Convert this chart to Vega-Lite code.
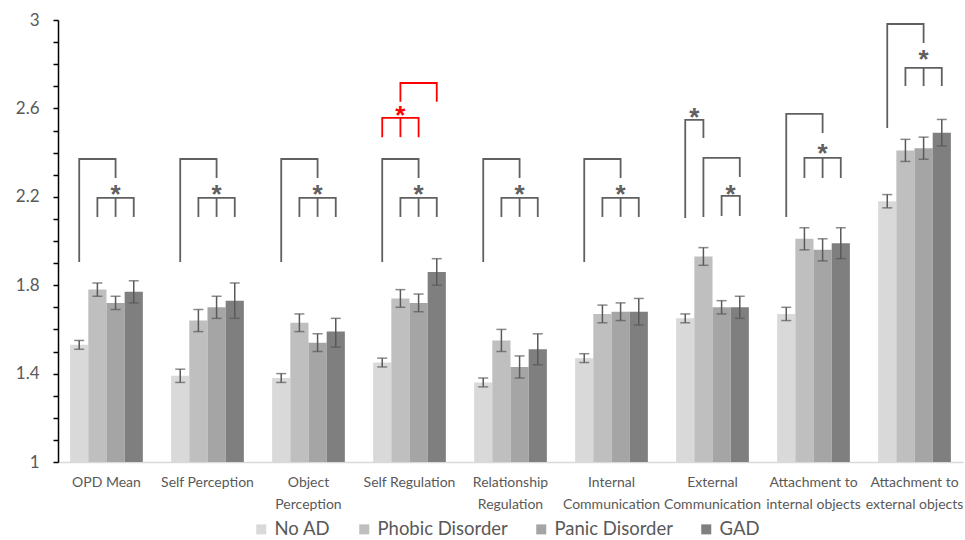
{
  "$schema": "https://vega.github.io/schema/vega-lite/v6.json",
  "width": 905,
  "height": 442,
  "autosize": {"type": "none"},
  "padding": {"left": 58, "top": 20, "right": 2, "bottom": 78},
  "config": {
    "view": {"stroke": null},
    "font": "Lato",
    "axis": {"grid": false}
  },
  "datasets": {
    "bars": [
      {"c": "OPD Mean", "s": "No AD", "v": 1.53, "lo": 1.51, "hi": 1.55},
      {"c": "OPD Mean", "s": "Phobic Disorder", "v": 1.78, "lo": 1.75, "hi": 1.81},
      {"c": "OPD Mean", "s": "Panic Disorder", "v": 1.72, "lo": 1.69, "hi": 1.75},
      {"c": "OPD Mean", "s": "GAD", "v": 1.77, "lo": 1.72, "hi": 1.82},
      {"c": "Self Perception", "s": "No AD", "v": 1.39, "lo": 1.36, "hi": 1.42},
      {"c": "Self Perception", "s": "Phobic Disorder", "v": 1.64, "lo": 1.59, "hi": 1.69},
      {"c": "Self Perception", "s": "Panic Disorder", "v": 1.70, "lo": 1.65, "hi": 1.75},
      {"c": "Self Perception", "s": "GAD", "v": 1.73, "lo": 1.65, "hi": 1.81},
      {"c": "Object Perception", "s": "No AD", "v": 1.38, "lo": 1.36, "hi": 1.40},
      {"c": "Object Perception", "s": "Phobic Disorder", "v": 1.63, "lo": 1.59, "hi": 1.67},
      {"c": "Object Perception", "s": "Panic Disorder", "v": 1.54, "lo": 1.50, "hi": 1.58},
      {"c": "Object Perception", "s": "GAD", "v": 1.59, "lo": 1.52, "hi": 1.65},
      {"c": "Self Regulation", "s": "No AD", "v": 1.45, "lo": 1.43, "hi": 1.47},
      {"c": "Self Regulation", "s": "Phobic Disorder", "v": 1.74, "lo": 1.70, "hi": 1.78},
      {"c": "Self Regulation", "s": "Panic Disorder", "v": 1.72, "lo": 1.68, "hi": 1.76},
      {"c": "Self Regulation", "s": "GAD", "v": 1.86, "lo": 1.80, "hi": 1.92},
      {"c": "Relationship Regulation", "s": "No AD", "v": 1.36, "lo": 1.34, "hi": 1.38},
      {"c": "Relationship Regulation", "s": "Phobic Disorder", "v": 1.55, "lo": 1.50, "hi": 1.60},
      {"c": "Relationship Regulation", "s": "Panic Disorder", "v": 1.43, "lo": 1.38, "hi": 1.48},
      {"c": "Relationship Regulation", "s": "GAD", "v": 1.51, "lo": 1.44, "hi": 1.58},
      {"c": "Internal Communication", "s": "No AD", "v": 1.47, "lo": 1.45, "hi": 1.49},
      {"c": "Internal Communication", "s": "Phobic Disorder", "v": 1.67, "lo": 1.63, "hi": 1.71},
      {"c": "Internal Communication", "s": "Panic Disorder", "v": 1.68, "lo": 1.64, "hi": 1.72},
      {"c": "Internal Communication", "s": "GAD", "v": 1.68, "lo": 1.62, "hi": 1.74},
      {"c": "External Communication", "s": "No AD", "v": 1.65, "lo": 1.63, "hi": 1.67},
      {"c": "External Communication", "s": "Phobic Disorder", "v": 1.93, "lo": 1.89, "hi": 1.97},
      {"c": "External Communication", "s": "Panic Disorder", "v": 1.70, "lo": 1.67, "hi": 1.73},
      {"c": "External Communication", "s": "GAD", "v": 1.70, "lo": 1.65, "hi": 1.75},
      {"c": "Attachment to internal objects", "s": "No AD", "v": 1.67, "lo": 1.64, "hi": 1.70},
      {"c": "Attachment to internal objects", "s": "Phobic Disorder", "v": 2.01, "lo": 1.96, "hi": 2.06},
      {"c": "Attachment to internal objects", "s": "Panic Disorder", "v": 1.96, "lo": 1.91, "hi": 2.01},
      {"c": "Attachment to internal objects", "s": "GAD", "v": 1.99, "lo": 1.92, "hi": 2.06},
      {"c": "Attachment to external objects", "s": "No AD", "v": 2.18, "lo": 2.15, "hi": 2.21},
      {"c": "Attachment to external objects", "s": "Phobic Disorder", "v": 2.41, "lo": 2.36, "hi": 2.46},
      {"c": "Attachment to external objects", "s": "Panic Disorder", "v": 2.42, "lo": 2.37, "hi": 2.47},
      {"c": "Attachment to external objects", "s": "GAD", "v": 2.49, "lo": 2.43, "hi": 2.55}
    ],
    "br": [
      {"c": "OPD Mean", "p": "a", "o": 1, "s": "No AD", "v": 1.905},
      {"c": "OPD Mean", "p": "a", "o": 2, "s": "No AD", "v": 2.371},
      {"c": "OPD Mean", "p": "a", "o": 3, "s": "Panic Disorder", "v": 2.371},
      {"c": "OPD Mean", "p": "a", "o": 4, "s": "Panic Disorder", "v": 2.285},
      {"c": "OPD Mean", "p": "b", "o": 1, "s": "Phobic Disorder", "v": 2.109},
      {"c": "OPD Mean", "p": "b", "o": 2, "s": "Phobic Disorder", "v": 2.195},
      {"c": "OPD Mean", "p": "b", "o": 3, "s": "GAD", "v": 2.195},
      {"c": "OPD Mean", "p": "b", "o": 4, "s": "GAD", "v": 2.109},
      {"c": "OPD Mean", "p": "m", "o": 1, "s": "Panic Disorder", "v": 2.195},
      {"c": "OPD Mean", "p": "m", "o": 2, "s": "Panic Disorder", "v": 2.109},
      {"c": "Self Perception", "p": "a", "o": 1, "s": "No AD", "v": 1.905},
      {"c": "Self Perception", "p": "a", "o": 2, "s": "No AD", "v": 2.371},
      {"c": "Self Perception", "p": "a", "o": 3, "s": "Panic Disorder", "v": 2.371},
      {"c": "Self Perception", "p": "a", "o": 4, "s": "Panic Disorder", "v": 2.285},
      {"c": "Self Perception", "p": "b", "o": 1, "s": "Phobic Disorder", "v": 2.109},
      {"c": "Self Perception", "p": "b", "o": 2, "s": "Phobic Disorder", "v": 2.195},
      {"c": "Self Perception", "p": "b", "o": 3, "s": "GAD", "v": 2.195},
      {"c": "Self Perception", "p": "b", "o": 4, "s": "GAD", "v": 2.109},
      {"c": "Self Perception", "p": "m", "o": 1, "s": "Panic Disorder", "v": 2.195},
      {"c": "Self Perception", "p": "m", "o": 2, "s": "Panic Disorder", "v": 2.109},
      {"c": "Object Perception", "p": "a", "o": 1, "s": "No AD", "v": 1.905},
      {"c": "Object Perception", "p": "a", "o": 2, "s": "No AD", "v": 2.371},
      {"c": "Object Perception", "p": "a", "o": 3, "s": "Panic Disorder", "v": 2.371},
      {"c": "Object Perception", "p": "a", "o": 4, "s": "Panic Disorder", "v": 2.285},
      {"c": "Object Perception", "p": "b", "o": 1, "s": "Phobic Disorder", "v": 2.109},
      {"c": "Object Perception", "p": "b", "o": 2, "s": "Phobic Disorder", "v": 2.195},
      {"c": "Object Perception", "p": "b", "o": 3, "s": "GAD", "v": 2.195},
      {"c": "Object Perception", "p": "b", "o": 4, "s": "GAD", "v": 2.109},
      {"c": "Object Perception", "p": "m", "o": 1, "s": "Panic Disorder", "v": 2.195},
      {"c": "Object Perception", "p": "m", "o": 2, "s": "Panic Disorder", "v": 2.109},
      {"c": "Self Regulation", "p": "a", "o": 1, "s": "No AD", "v": 1.905},
      {"c": "Self Regulation", "p": "a", "o": 2, "s": "No AD", "v": 2.371},
      {"c": "Self Regulation", "p": "a", "o": 3, "s": "Panic Disorder", "v": 2.371},
      {"c": "Self Regulation", "p": "a", "o": 4, "s": "Panic Disorder", "v": 2.285},
      {"c": "Self Regulation", "p": "b", "o": 1, "s": "Phobic Disorder", "v": 2.109},
      {"c": "Self Regulation", "p": "b", "o": 2, "s": "Phobic Disorder", "v": 2.195},
      {"c": "Self Regulation", "p": "b", "o": 3, "s": "GAD", "v": 2.195},
      {"c": "Self Regulation", "p": "b", "o": 4, "s": "GAD", "v": 2.109},
      {"c": "Self Regulation", "p": "m", "o": 1, "s": "Panic Disorder", "v": 2.195},
      {"c": "Self Regulation", "p": "m", "o": 2, "s": "Panic Disorder", "v": 2.109},
      {"c": "Relationship Regulation", "p": "a", "o": 1, "s": "No AD", "v": 1.905},
      {"c": "Relationship Regulation", "p": "a", "o": 2, "s": "No AD", "v": 2.371},
      {"c": "Relationship Regulation", "p": "a", "o": 3, "s": "Panic Disorder", "v": 2.371},
      {"c": "Relationship Regulation", "p": "a", "o": 4, "s": "Panic Disorder", "v": 2.285},
      {"c": "Relationship Regulation", "p": "b", "o": 1, "s": "Phobic Disorder", "v": 2.109},
      {"c": "Relationship Regulation", "p": "b", "o": 2, "s": "Phobic Disorder", "v": 2.195},
      {"c": "Relationship Regulation", "p": "b", "o": 3, "s": "GAD", "v": 2.195},
      {"c": "Relationship Regulation", "p": "b", "o": 4, "s": "GAD", "v": 2.109},
      {"c": "Relationship Regulation", "p": "m", "o": 1, "s": "Panic Disorder", "v": 2.195},
      {"c": "Relationship Regulation", "p": "m", "o": 2, "s": "Panic Disorder", "v": 2.109},
      {"c": "Internal Communication", "p": "a", "o": 1, "s": "No AD", "v": 1.905},
      {"c": "Internal Communication", "p": "a", "o": 2, "s": "No AD", "v": 2.371},
      {"c": "Internal Communication", "p": "a", "o": 3, "s": "Panic Disorder", "v": 2.371},
      {"c": "Internal Communication", "p": "a", "o": 4, "s": "Panic Disorder", "v": 2.285},
      {"c": "Internal Communication", "p": "b", "o": 1, "s": "Phobic Disorder", "v": 2.109},
      {"c": "Internal Communication", "p": "b", "o": 2, "s": "Phobic Disorder", "v": 2.195},
      {"c": "Internal Communication", "p": "b", "o": 3, "s": "GAD", "v": 2.195},
      {"c": "Internal Communication", "p": "b", "o": 4, "s": "GAD", "v": 2.109},
      {"c": "Internal Communication", "p": "m", "o": 1, "s": "Panic Disorder", "v": 2.195},
      {"c": "Internal Communication", "p": "m", "o": 2, "s": "Panic Disorder", "v": 2.109},
      {"c": "External Communication", "p": "a", "o": 1, "s": "No AD", "v": 2.104},
      {"c": "External Communication", "p": "a", "o": 2, "s": "No AD", "v": 2.548},
      {"c": "External Communication", "p": "a", "o": 3, "s": "Phobic Disorder", "v": 2.548},
      {"c": "External Communication", "p": "a", "o": 4, "s": "Phobic Disorder", "v": 2.466},
      {"c": "External Communication", "p": "b", "o": 1, "s": "Phobic Disorder", "v": 2.109},
      {"c": "External Communication", "p": "b", "o": 2, "s": "Phobic Disorder", "v": 2.376},
      {"c": "External Communication", "p": "b", "o": 3, "s": "GAD", "v": 2.376},
      {"c": "External Communication", "p": "b", "o": 4, "s": "GAD", "v": 2.29},
      {"c": "External Communication", "p": "d", "o": 1, "s": "Panic Disorder", "v": 2.113},
      {"c": "External Communication", "p": "d", "o": 2, "s": "Panic Disorder", "v": 2.204},
      {"c": "External Communication", "p": "d", "o": 3, "s": "GAD", "v": 2.204},
      {"c": "External Communication", "p": "d", "o": 4, "s": "GAD", "v": 2.113},
      {"c": "Attachment to internal objects", "p": "a", "o": 1, "s": "No AD", "v": 2.109},
      {"c": "Attachment to internal objects", "p": "a", "o": 2, "s": "No AD", "v": 2.575},
      {"c": "Attachment to internal objects", "p": "a", "o": 3, "s": "Panic Disorder", "v": 2.575},
      {"c": "Attachment to internal objects", "p": "a", "o": 4, "s": "Panic Disorder", "v": 2.489},
      {"c": "Attachment to internal objects", "p": "b", "o": 1, "s": "Phobic Disorder", "v": 2.285},
      {"c": "Attachment to internal objects", "p": "b", "o": 2, "s": "Phobic Disorder", "v": 2.376},
      {"c": "Attachment to internal objects", "p": "b", "o": 3, "s": "GAD", "v": 2.376},
      {"c": "Attachment to internal objects", "p": "b", "o": 4, "s": "GAD", "v": 2.285},
      {"c": "Attachment to internal objects", "p": "m", "o": 1, "s": "Panic Disorder", "v": 2.376},
      {"c": "Attachment to internal objects", "p": "m", "o": 2, "s": "Panic Disorder", "v": 2.285},
      {"c": "Attachment to external objects", "p": "a", "o": 1, "s": "No AD", "v": 2.511},
      {"c": "Attachment to external objects", "p": "a", "o": 2, "s": "No AD", "v": 2.982},
      {"c": "Attachment to external objects", "p": "a", "o": 3, "s": "Panic Disorder", "v": 2.982},
      {"c": "Attachment to external objects", "p": "a", "o": 4, "s": "Panic Disorder", "v": 2.896},
      {"c": "Attachment to external objects", "p": "b", "o": 1, "s": "Phobic Disorder", "v": 2.701},
      {"c": "Attachment to external objects", "p": "b", "o": 2, "s": "Phobic Disorder", "v": 2.783},
      {"c": "Attachment to external objects", "p": "b", "o": 3, "s": "GAD", "v": 2.783},
      {"c": "Attachment to external objects", "p": "b", "o": 4, "s": "GAD", "v": 2.701},
      {"c": "Attachment to external objects", "p": "m", "o": 1, "s": "Panic Disorder", "v": 2.783},
      {"c": "Attachment to external objects", "p": "m", "o": 2, "s": "Panic Disorder", "v": 2.701}
    ],
    "brRed": [
      {"c": "Self Regulation", "p": "r1", "o": 1, "s": "No AD", "v": 2.47},
      {"c": "Self Regulation", "p": "r1", "o": 2, "s": "No AD", "v": 2.557},
      {"c": "Self Regulation", "p": "r1", "o": 3, "s": "Panic Disorder", "v": 2.557},
      {"c": "Self Regulation", "p": "r1", "o": 4, "s": "Panic Disorder", "v": 2.47},
      {"c": "Self Regulation", "p": "rm", "o": 1, "s": "Phobic Disorder", "v": 2.557},
      {"c": "Self Regulation", "p": "rm", "o": 2, "s": "Phobic Disorder", "v": 2.47},
      {"c": "Self Regulation", "p": "r2", "o": 1, "s": "Phobic Disorder", "v": 2.63},
      {"c": "Self Regulation", "p": "r2", "o": 2, "s": "Phobic Disorder", "v": 2.715},
      {"c": "Self Regulation", "p": "r2", "o": 3, "s": "GAD", "v": 2.715},
      {"c": "Self Regulation", "p": "r2", "o": 4, "s": "GAD", "v": 2.63}
    ],
    "ast": [
      {"c": "OPD Mean", "s": "Panic Disorder", "v": 2.24},
      {"c": "Self Perception", "s": "Panic Disorder", "v": 2.24},
      {"c": "Object Perception", "s": "Panic Disorder", "v": 2.24},
      {"c": "Self Regulation", "s": "Panic Disorder", "v": 2.24},
      {"c": "Relationship Regulation", "s": "Panic Disorder", "v": 2.24},
      {"c": "Internal Communication", "s": "Panic Disorder", "v": 2.24},
      {"c": "Attachment to internal objects", "s": "Panic Disorder", "v": 2.425},
      {"c": "Attachment to external objects", "s": "Panic Disorder", "v": 2.851}
    ],
    "astMid": [
      {"c": "External Communication", "s": "No AD", "v": 2.588},
      {"c": "External Communication", "s": "Panic Disorder", "v": 2.24}
    ],
    "astRed": [
      {"c": "Self Regulation", "s": "Phobic Disorder", "v": 2.597}
    ]
  },
  "encoding": {
    "x": {
      "field": "c",
      "type": "nominal",
      "title": null,
      "scale": {
        "domain": ["OPD Mean", "Self Perception", "Object Perception", "Self Regulation", "Relationship Regulation", "Internal Communication", "External Communication", "Attachment to internal objects", "Attachment to external objects"],
        "paddingInner": 0.28,
        "paddingOuter": 0.12
      },
      "axis": {
        "ticks": false,
        "domainColor": "#d9d9d9",
        "domainWidth": 1.5,
        "labelAngle": 0,
        "labelFont": "Lato",
        "labelFontSize": 14,
        "labelColor": "#595959",
        "labelPadding": 13,
        "labelLineHeight": 22,
        "labelLimit": 0,
        "labelExpr": "datum.label == 'Attachment to internal objects' ? ['Attachment to', 'internal objects'] : datum.label == 'Attachment to external objects' ? ['Attachment to', 'external objects'] : (datum.label == 'OPD Mean' || datum.label == 'Self Perception' || datum.label == 'Self Regulation') ? datum.label : split(datum.label, ' ')"
      }
    },
    "xOffset": {
      "field": "s",
      "type": "nominal",
      "scale": {"domain": ["No AD", "Phobic Disorder", "Panic Disorder", "GAD"]}
    }
  },
  "layer": [
    {
      "data": {"name": "bars"},
      "mark": {"type": "bar"},
      "encoding": {
        "y": {
          "field": "v",
          "type": "quantitative",
          "title": null,
          "scale": {"domain": [1, 3], "zero": false, "nice": false},
          "axis": {
            "tickCount": 20,
            "domainColor": "#000000",
            "domainWidth": 1.5,
            "tickColor": "#000000",
            "tickWidth": 1.5,
            "tickSize": 5,
            "labelFont": "Lato",
            "labelFontSize": 17,
            "labelColor": "#595959",
            "labelPadding": 14,
            "labelOverlap": false,
            "labelFlush": false,
            "labelExpr": "abs((datum.value - 1) / 0.4 - round((datum.value - 1) / 0.4)) < 0.01 ? format(datum.value, '~g') : ''"
          }
        },
        "y2": {"datum": 1},
        "color": {
          "field": "s",
          "type": "nominal",
          "scale": {
            "domain": ["No AD", "Phobic Disorder", "Panic Disorder", "GAD"],
            "range": ["#d9d9d9", "#bfbfbf", "#a5a5a5", "#7f7f7f"]
          },
          "legend": {
            "orient": "none",
            "legendX": 194,
            "legendY": 500,
            "direction": "horizontal",
            "columns": 4,
            "title": null,
            "symbolType": "square",
            "symbolSize": 100,
            "symbolStrokeWidth": 0,
            "labelFont": "Lato",
            "labelFontSize": 18.5,
            "labelColor": "#595959",
            "labelOffset": 4,
            "columnPadding": 24
          }
        }
      }
    },
    {
      "data": {"name": "bars"},
      "mark": {"type": "rule", "color": "#595959", "strokeWidth": 1.5},
      "encoding": {
        "y": {"field": "lo", "type": "quantitative", "title": null},
        "y2": {"field": "hi"}
      }
    },
    {
      "data": {"name": "bars"},
      "mark": {"type": "tick", "color": "#595959", "size": 10, "thickness": 1.5, "orient": "horizontal"},
      "encoding": {"y": {"field": "lo", "type": "quantitative", "title": null}}
    },
    {
      "data": {"name": "bars"},
      "mark": {"type": "tick", "color": "#595959", "size": 10, "thickness": 1.5, "orient": "horizontal"},
      "encoding": {"y": {"field": "hi", "type": "quantitative", "title": null}}
    },
    {
      "data": {"name": "br"},
      "mark": {"type": "line", "color": "#606060", "strokeWidth": 1.8, "strokeJoin": "miter", "strokeCap": "butt"},
      "encoding": {
        "y": {"field": "v", "type": "quantitative", "title": null},
        "detail": [{"field": "c", "type": "nominal"}, {"field": "p", "type": "nominal"}],
        "order": {"field": "o", "type": "quantitative"}
      }
    },
    {
      "data": {"name": "brRed"},
      "mark": {"type": "line", "color": "#ff0000", "strokeWidth": 1.8, "strokeJoin": "miter", "strokeCap": "butt"},
      "encoding": {
        "y": {"field": "v", "type": "quantitative", "title": null},
        "detail": [{"field": "c", "type": "nominal"}, {"field": "p", "type": "nominal"}],
        "order": {"field": "o", "type": "quantitative"}
      }
    },
    {
      "data": {"name": "ast"},
      "mark": {"type": "text", "text": "*", "font": "Liberation Sans", "fontSize": 26, "fontWeight": "bold", "color": "#606060", "baseline": "alphabetic", "dy": 15},
      "encoding": {"y": {"field": "v", "type": "quantitative", "title": null}}
    },
    {
      "data": {"name": "astMid"},
      "mark": {"type": "text", "text": "*", "font": "Liberation Sans", "fontSize": 26, "fontWeight": "bold", "color": "#606060", "baseline": "alphabetic", "dy": 15, "dx": 9},
      "encoding": {"y": {"field": "v", "type": "quantitative", "title": null}}
    },
    {
      "data": {"name": "astRed"},
      "mark": {"type": "text", "text": "*", "font": "Liberation Sans", "fontSize": 26, "fontWeight": "bold", "color": "#ff0000", "baseline": "alphabetic", "dy": 15},
      "encoding": {"y": {"field": "v", "type": "quantitative", "title": null}}
    }
  ]
}
